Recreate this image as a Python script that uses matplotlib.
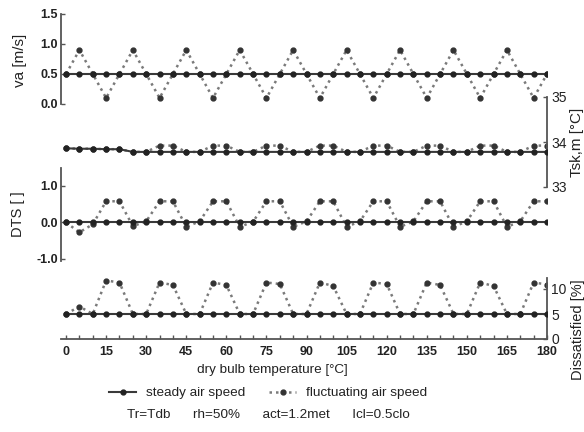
import numpy as np
import matplotlib
matplotlib.use("Agg")
import matplotlib.pyplot as plt
from matplotlib.ticker import MultipleLocator

plt.rcParams['font.family'] = ['Liberation Sans', 'DejaVu Sans']

# time steps (x axis labelled as dry bulb temperature in the source)
t = np.arange(0, 185, 5)

va_steady = [0.5] * 37
va_fluct = [0.5, 0.9, 0.5, 0.1] * 9 + [0.5]

tsk_steady = [33.86, 33.85, 33.85, 33.84, 33.84] + [33.78] * 32
tsk_fluct = [33.86, 33.85, 33.85, 33.84, 33.84,
             33.78, 33.78, 33.92, 33.92, 33.78, 33.78, 33.92, 33.92,
             33.78, 33.78, 33.92, 33.92, 33.78, 33.78, 33.92, 33.92,
             33.78, 33.78, 33.92, 33.92, 33.78, 33.78, 33.92, 33.92,
             33.78, 33.78, 33.92, 33.92, 33.78, 33.78, 33.92, 33.92]

dts_steady = [0.0] * 37
dts_fluct = [0.0, -0.27, -0.05, 0.58, 0.58,
             -0.1, 0.03, 0.58, 0.58, -0.12, 0.03, 0.58, 0.58,
             -0.12, 0.02, 0.58, 0.58, -0.12, 0.03, 0.58, 0.58,
             -0.12, 0.03, 0.58, 0.58, -0.12, 0.03, 0.58, 0.58,
             -0.12, 0.03, 0.58, 0.58, -0.12, 0.03, 0.58, 0.58]

dis_steady = [5.0] * 37
dis_fluct = [5.0, 6.5, 5.0, 11.7, 11.3,
             5.0, 5.0, 11.3, 10.8, 5.0, 5.0, 11.3, 10.8,
             5.0, 5.0, 11.3, 11.0, 5.0, 5.0, 11.3, 10.6,
             5.0, 5.0, 11.3, 11.0, 5.0, 5.0, 11.3, 10.8,
             5.0, 5.0, 11.3, 10.6, 5.0, 5.0, 11.3, 10.9]

x_ticks = [0, 15, 30, 45, 60, 75, 90, 105, 120, 135, 150, 165, 180]

W, H = 584, 432
fig = plt.figure(figsize=(W / 100, H / 100), dpi=100)

left = 60.7 / W
width = (547 - 60.7) / W

def panel(top_px, bottom_px):
    return fig.add_axes([left, 1 - bottom_px / H, width, (bottom_px - top_px) / H])

ax_va = panel(14, 104)
ax_tsk = panel(97, 187)
ax_dts = panel(167.7, 260.8)
ax_dis = panel(278, 339)

spine_col = '#555555'
text_col = '#222222'
steady_kw = dict(color='#3a3a3a', lw=1.5, ls='-', marker='o', ms=3.5,
                 mfc='#222222', mec='#222222')
fluct_kw = dict(color='#7a7a7a', lw=1.8, ls=(0, (1, 1.6)), marker='o', ms=3.5,
                mfc='#333333', mec='#333333')

panels = [
    (ax_va, va_steady, va_fluct, 'left', (0, 1.5), [0.0, 0.5, 1.0, 1.5], '%.1f'),
    (ax_tsk, tsk_steady, tsk_fluct, 'right', (33, 35), [33, 34, 35], '%d'),
    (ax_dts, dts_steady, dts_fluct, 'left', (-1.05, 1.5), [-1.0, 0.0, 1.0], '%.1f'),
    (ax_dis, dis_steady, dis_fluct, 'right', (0, 12.2), [0, 5, 10], '%d'),
]

for ax, s, f, side, ylim, yt, fmt in panels:
    ax.patch.set_alpha(0)
    l1, = ax.plot(t, s, **steady_kw, zorder=3)
    l2, = ax.plot(t, f, **fluct_kw, zorder=2)
    ax.set_xlim(-2, 180)
    ax.set_ylim(*ylim)
    for sp in ax.spines.values():
        sp.set_visible(False)
    ax.spines[side].set_visible(True)
    ax.spines[side].set_color(spine_col)
    ax.spines[side].set_linewidth(1.3)
    ax.set_yticks(yt)
    ax.set_yticklabels([fmt % v for v in yt])
    ax.yaxis.set_ticks_position(side)
    # left scales are printed bold, right scales in normal weight
    if side == 'left':
        ax.tick_params(axis='y', direction='in', length=3, width=1, color=spine_col,
                       labelsize=9, pad=2)
        for lab in ax.get_yticklabels():
            lab.set_fontweight('bold')
            lab.set_color(text_col)
    else:
        ax.tick_params(axis='y', direction='in', length=3, width=1, color=spine_col,
                       labelsize=10, pad=3, labelcolor=text_col)
    ax.set_xticks([])

# bottom axis on the last panel
ax_dis.spines['bottom'].set_visible(True)
ax_dis.spines['bottom'].set_color(spine_col)
ax_dis.spines['bottom'].set_linewidth(1.3)
ax_dis.set_xticks(x_ticks)
ax_dis.set_xticklabels([str(v) for v in x_ticks])
ax_dis.xaxis.set_minor_locator(MultipleLocator(5))
ax_dis.tick_params(axis='x', which='both', direction='in', length=3, width=1,
                   color=spine_col, labelsize=9, pad=5)
for lab in ax_dis.get_xticklabels():
    lab.set_fontweight('bold')
    lab.set_color(text_col)

# axis titles
fig.text(20 / W, 1 - 60 / H, 'va [m/s]', rotation=90, ha='center', va='center',
         fontsize=11, color=text_col)
fig.text(18 / W, 1 - 214 / H, 'DTS [ ]', rotation=90, ha='center', va='center',
         fontsize=10.5, color=text_col)
fig.text(577 / W, 1 - 142 / H, 'Tsk,m [°C]', rotation=90, ha='center', va='center',
         fontsize=11, color=text_col)
fig.text(578 / W, 1 - 330 / H, 'Dissatisfied [%]', rotation=90, ha='center', va='center',
         fontsize=10.5, color=text_col)

fig.text(272 / W, 1 - 370 / H, 'dry bulb temperature [°C]', ha='center', va='center',
         fontsize=9.7, color=text_col)

fig.legend([l1, l2], ['steady air speed', 'fluctuating air speed'],
           loc='center', bbox_to_anchor=(268 / W, 1 - 393 / H), ncol=2,
           frameon=False, fontsize=9.7, handlelength=2.0, columnspacing=1.8,
           handletextpad=0.7, borderpad=0, labelcolor=text_col)

fig.text(268 / W, 1 - 415 / H, 'Tr=Tdb      rh=50%      act=1.2met      Icl=0.5clo',
         ha='center', va='center', fontsize=9.7, color=text_col)

fig.savefig('out.png', dpi=100)
